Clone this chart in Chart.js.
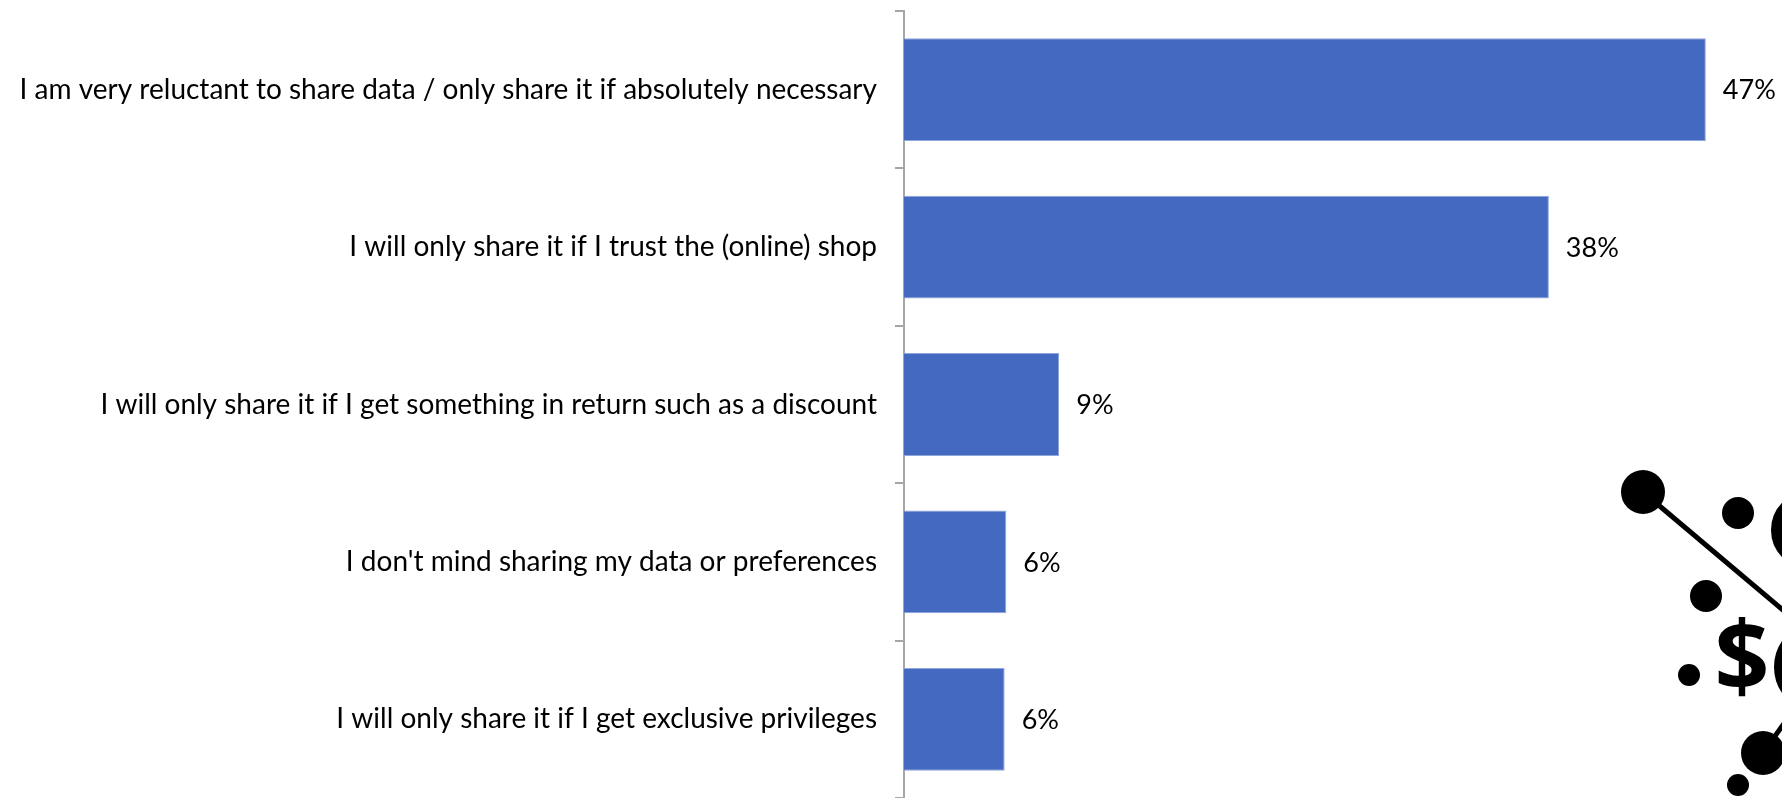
<!DOCTYPE html>
<html lang="en">
<head>
    <meta charset="UTF-8">
    <title>Data sharing attitudes</title>
    <script src="https://cdn.jsdelivr.net/npm/chart.js"></script>
    <style>
        html, body { margin: 0; padding: 0; background: #fff; }
        #wrap { width: 1782px; height: 798px; position: relative; }
    </style>
</head>
<body>
    <div id="wrap">
        <canvas id="shareChart"></canvas>
    </div>

    <script>
        // Answers and shares (percent)
        const answers = [
            'I am very reluctant to share data / only share it if absolutely necessary',
            'I will only share it if I trust the (online) shop',
            'I will only share it if I get something in return such as a discount',
            "I don't mind sharing my data or preferences",
            'I will only share it if I get exclusive privileges'
        ];
        const shares = [47, 37.8, 9.1, 6.0, 5.9];
        const shareLabels = ['47%', '38%', '9%', '6%', '6%'];

        // value labels at the end of each bar
        const valueLabels = {
            id: 'valueLabels',
            afterDatasetsDraw(chart) {
                const ctx = chart.ctx;
                const meta = chart.getDatasetMeta(0);
                ctx.save();
                ctx.font = '27px Lato';
                ctx.fillStyle = '#000';
                ctx.textBaseline = 'middle';
                ctx.textAlign = 'left';
                meta.data.forEach((bar, i) => {
                    ctx.fillText(shareLabels[i], bar.x + 17, bar.y + 1);
                });
                ctx.restore();
            }
        };

        // the partly visible logo in the lower right corner
        const logo = {
            id: 'logo',
            afterDraw(chart) {
                const ctx = chart.ctx;
                const dot = (x, y, r) => {
                    ctx.beginPath();
                    ctx.arc(x, y, r, 0, Math.PI * 2);
                    ctx.fill();
                };
                ctx.save();
                ctx.fillStyle = '#000';
                ctx.strokeStyle = '#000';
                ctx.lineWidth = 5;
                ctx.beginPath();
                ctx.moveTo(1643, 492);
                ctx.lineTo(1790, 616);
                ctx.stroke();
                ctx.beginPath();
                ctx.moveTo(1763, 753);
                ctx.lineTo(1790, 715);
                ctx.stroke();
                dot(1643, 492, 22);
                dot(1738, 513, 16);
                dot(1706, 596, 16);
                dot(1689, 675, 11);
                dot(1763, 753, 22);
                dot(1738, 785, 11);
                // rings cut off at the right edge
                ctx.lineWidth = 12;
                ctx.beginPath();
                ctx.arc(1810, 530, 33, 0, Math.PI * 2);
                ctx.stroke();
                ctx.beginPath();
                ctx.arc(1820, 667, 40, 0, Math.PI * 2);
                ctx.stroke();
                ctx.font = 'bold 96px "Open Sans"';
                ctx.textAlign = 'center';
                ctx.textBaseline = 'middle';
                ctx.fillText('$', 1742, 664);
                ctx.restore();
            }
        };

        const ctx = document.getElementById('shareChart').getContext('2d');
        const chart = new Chart(ctx, {
            type: 'bar',
            data: {
                labels: answers,
                datasets: [{
                    data: shares,
                    backgroundColor: '#4469c0',
                    borderColor: '#8ea6dc',
                    borderWidth: 1,
                    categoryPercentage: 1,
                    barPercentage: 0.653
                }]
            },
            options: {
                indexAxis: 'y',
                responsive: true,
                maintainAspectRatio: false,
                animation: false,
                layout: { padding: { top: 11, bottom: -2, right: 25, left: 0 } },
                plugins: {
                    legend: { display: false },
                    tooltip: { enabled: false }
                },
                scales: {
                    x: {
                        display: false,
                        min: 0,
                        max: 50
                    },
                    y: {
                        afterFit(scale) {
                            scale.width = 904;
                            scale.paddingTop = 0;
                            scale.paddingBottom = 0;
                        },
                        border: { color: '#a6a6a6', width: 2 },
                        grid: {
                            drawOnChartArea: false,
                            color: '#a6a6a6',
                            lineWidth: 2,
                            tickLength: 9
                        },
                        ticks: {
                            color: '#000',
                            padding: 18,
                            font: { family: 'Lato', size: 28 }
                        }
                    }
                }
            },
            plugins: [valueLabels, logo]
        });
    </script>
</body>
</html>
